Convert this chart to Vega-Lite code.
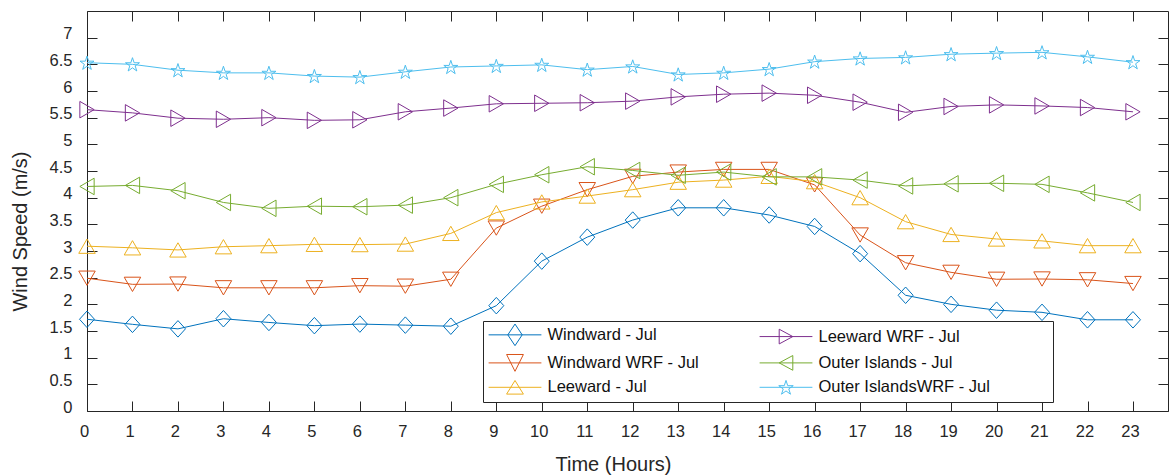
{
  "$schema": "https://vega.github.io/schema/vega-lite/v6.json",
  "width": 1081,
  "height": 400,
  "autosize": {"type": "none"},
  "padding": {"left": 87, "top": 11, "right": 7, "bottom": 64},
  "background": "white",
  "config": {
    "view": {"stroke": "#262626", "strokeWidth": 1},
    "axis": {"labelFont": "Liberation Sans", "labelFontSize": 16.5, "labelColor": "#262626", "titleFont": "Liberation Sans", "titleFontSize": 20, "titleFontWeight": "normal", "titleColor": "#262626", "tickColor": "#262626", "tickSize": -10, "tickWidth": 1, "domain": false, "grid": false}
  },
  "datasets": {
    "wind": [
      {"hour":0,"series":"Windward - Jul","speed":1.72},{"hour":1,"series":"Windward - Jul","speed":1.625},{"hour":2,"series":"Windward - Jul","speed":1.54},{"hour":3,"series":"Windward - Jul","speed":1.73},{"hour":4,"series":"Windward - Jul","speed":1.66},{"hour":5,"series":"Windward - Jul","speed":1.6},{"hour":6,"series":"Windward - Jul","speed":1.63},{"hour":7,"series":"Windward - Jul","speed":1.61},{"hour":8,"series":"Windward - Jul","speed":1.59},{"hour":9,"series":"Windward - Jul","speed":1.975},{"hour":10,"series":"Windward - Jul","speed":2.81},{"hour":11,"series":"Windward - Jul","speed":3.26},{"hour":12,"series":"Windward - Jul","speed":3.58},{"hour":13,"series":"Windward - Jul","speed":3.81},{"hour":14,"series":"Windward - Jul","speed":3.81},{"hour":15,"series":"Windward - Jul","speed":3.675},{"hour":16,"series":"Windward - Jul","speed":3.46},{"hour":17,"series":"Windward - Jul","speed":2.95},{"hour":18,"series":"Windward - Jul","speed":2.17},{"hour":19,"series":"Windward - Jul","speed":2.0},{"hour":20,"series":"Windward - Jul","speed":1.89},{"hour":21,"series":"Windward - Jul","speed":1.85},{"hour":22,"series":"Windward - Jul","speed":1.71},{"hour":23,"series":"Windward - Jul","speed":1.71},
      {"hour":0,"series":"Windward WRF - Jul","speed":2.49},{"hour":1,"series":"Windward WRF - Jul","speed":2.375},{"hour":2,"series":"Windward WRF - Jul","speed":2.38},{"hour":3,"series":"Windward WRF - Jul","speed":2.31},{"hour":4,"series":"Windward WRF - Jul","speed":2.31},{"hour":5,"series":"Windward WRF - Jul","speed":2.31},{"hour":6,"series":"Windward WRF - Jul","speed":2.35},{"hour":7,"series":"Windward WRF - Jul","speed":2.34},{"hour":8,"series":"Windward WRF - Jul","speed":2.47},{"hour":9,"series":"Windward WRF - Jul","speed":3.43},{"hour":10,"series":"Windward WRF - Jul","speed":3.84},{"hour":11,"series":"Windward WRF - Jul","speed":4.15},{"hour":12,"series":"Windward WRF - Jul","speed":4.4},{"hour":13,"series":"Windward WRF - Jul","speed":4.48},{"hour":14,"series":"Windward WRF - Jul","speed":4.53},{"hour":15,"series":"Windward WRF - Jul","speed":4.53},{"hour":16,"series":"Windward WRF - Jul","speed":4.24},{"hour":17,"series":"Windward WRF - Jul","speed":3.3},{"hour":18,"series":"Windward WRF - Jul","speed":2.78},{"hour":19,"series":"Windward WRF - Jul","speed":2.6},{"hour":20,"series":"Windward WRF - Jul","speed":2.47},{"hour":21,"series":"Windward WRF - Jul","speed":2.475},{"hour":22,"series":"Windward WRF - Jul","speed":2.46},{"hour":23,"series":"Windward WRF - Jul","speed":2.39},
      {"hour":0,"series":"Leeward - Jul","speed":3.09},{"hour":1,"series":"Leeward - Jul","speed":3.06},{"hour":2,"series":"Leeward - Jul","speed":3.02},{"hour":3,"series":"Leeward - Jul","speed":3.08},{"hour":4,"series":"Leeward - Jul","speed":3.1},{"hour":5,"series":"Leeward - Jul","speed":3.125},{"hour":6,"series":"Leeward - Jul","speed":3.12},{"hour":7,"series":"Leeward - Jul","speed":3.13},{"hour":8,"series":"Leeward - Jul","speed":3.33},{"hour":9,"series":"Leeward - Jul","speed":3.72},{"hour":10,"series":"Leeward - Jul","speed":3.92},{"hour":11,"series":"Leeward - Jul","speed":4.03},{"hour":12,"series":"Leeward - Jul","speed":4.15},{"hour":13,"series":"Leeward - Jul","speed":4.29},{"hour":14,"series":"Leeward - Jul","speed":4.33},{"hour":15,"series":"Leeward - Jul","speed":4.4},{"hour":16,"series":"Leeward - Jul","speed":4.3},{"hour":17,"series":"Leeward - Jul","speed":4.0},{"hour":18,"series":"Leeward - Jul","speed":3.55},{"hour":19,"series":"Leeward - Jul","speed":3.31},{"hour":20,"series":"Leeward - Jul","speed":3.225},{"hour":21,"series":"Leeward - Jul","speed":3.19},{"hour":22,"series":"Leeward - Jul","speed":3.1},{"hour":23,"series":"Leeward - Jul","speed":3.1},
      {"hour":0,"series":"Leeward WRF - Jul","speed":5.65},{"hour":1,"series":"Leeward WRF - Jul","speed":5.59},{"hour":2,"series":"Leeward WRF - Jul","speed":5.49},{"hour":3,"series":"Leeward WRF - Jul","speed":5.47},{"hour":4,"series":"Leeward WRF - Jul","speed":5.5},{"hour":5,"series":"Leeward WRF - Jul","speed":5.45},{"hour":6,"series":"Leeward WRF - Jul","speed":5.46},{"hour":7,"series":"Leeward WRF - Jul","speed":5.61},{"hour":8,"series":"Leeward WRF - Jul","speed":5.68},{"hour":9,"series":"Leeward WRF - Jul","speed":5.76},{"hour":10,"series":"Leeward WRF - Jul","speed":5.77},{"hour":11,"series":"Leeward WRF - Jul","speed":5.78},{"hour":12,"series":"Leeward WRF - Jul","speed":5.81},{"hour":13,"series":"Leeward WRF - Jul","speed":5.89},{"hour":14,"series":"Leeward WRF - Jul","speed":5.94},{"hour":15,"series":"Leeward WRF - Jul","speed":5.96},{"hour":16,"series":"Leeward WRF - Jul","speed":5.92},{"hour":17,"series":"Leeward WRF - Jul","speed":5.79},{"hour":18,"series":"Leeward WRF - Jul","speed":5.6},{"hour":19,"series":"Leeward WRF - Jul","speed":5.71},{"hour":20,"series":"Leeward WRF - Jul","speed":5.74},{"hour":21,"series":"Leeward WRF - Jul","speed":5.72},{"hour":22,"series":"Leeward WRF - Jul","speed":5.69},{"hour":23,"series":"Leeward WRF - Jul","speed":5.61},
      {"hour":0,"series":"Outer Islands - Jul","speed":4.21},{"hour":1,"series":"Outer Islands - Jul","speed":4.23},{"hour":2,"series":"Outer Islands - Jul","speed":4.13},{"hour":3,"series":"Outer Islands - Jul","speed":3.91},{"hour":4,"series":"Outer Islands - Jul","speed":3.8},{"hour":5,"series":"Outer Islands - Jul","speed":3.84},{"hour":6,"series":"Outer Islands - Jul","speed":3.83},{"hour":7,"series":"Outer Islands - Jul","speed":3.86},{"hour":8,"series":"Outer Islands - Jul","speed":4.0},{"hour":9,"series":"Outer Islands - Jul","speed":4.25},{"hour":10,"series":"Outer Islands - Jul","speed":4.43},{"hour":11,"series":"Outer Islands - Jul","speed":4.58},{"hour":12,"series":"Outer Islands - Jul","speed":4.51},{"hour":13,"series":"Outer Islands - Jul","speed":4.42},{"hour":14,"series":"Outer Islands - Jul","speed":4.48},{"hour":15,"series":"Outer Islands - Jul","speed":4.39},{"hour":16,"series":"Outer Islands - Jul","speed":4.39},{"hour":17,"series":"Outer Islands - Jul","speed":4.33},{"hour":18,"series":"Outer Islands - Jul","speed":4.22},{"hour":19,"series":"Outer Islands - Jul","speed":4.26},{"hour":20,"series":"Outer Islands - Jul","speed":4.27},{"hour":21,"series":"Outer Islands - Jul","speed":4.25},{"hour":22,"series":"Outer Islands - Jul","speed":4.09},{"hour":23,"series":"Outer Islands - Jul","speed":3.91},
      {"hour":0,"series":"Outer IslandsWRF - Jul","speed":6.53},{"hour":1,"series":"Outer IslandsWRF - Jul","speed":6.5},{"hour":2,"series":"Outer IslandsWRF - Jul","speed":6.39},{"hour":3,"series":"Outer IslandsWRF - Jul","speed":6.34},{"hour":4,"series":"Outer IslandsWRF - Jul","speed":6.34},{"hour":5,"series":"Outer IslandsWRF - Jul","speed":6.28},{"hour":6,"series":"Outer IslandsWRF - Jul","speed":6.26},{"hour":7,"series":"Outer IslandsWRF - Jul","speed":6.36},{"hour":8,"series":"Outer IslandsWRF - Jul","speed":6.45},{"hour":9,"series":"Outer IslandsWRF - Jul","speed":6.47},{"hour":10,"series":"Outer IslandsWRF - Jul","speed":6.49},{"hour":11,"series":"Outer IslandsWRF - Jul","speed":6.4},{"hour":12,"series":"Outer IslandsWRF - Jul","speed":6.46},{"hour":13,"series":"Outer IslandsWRF - Jul","speed":6.31},{"hour":14,"series":"Outer IslandsWRF - Jul","speed":6.34},{"hour":15,"series":"Outer IslandsWRF - Jul","speed":6.41},{"hour":16,"series":"Outer IslandsWRF - Jul","speed":6.55},{"hour":17,"series":"Outer IslandsWRF - Jul","speed":6.61},{"hour":18,"series":"Outer IslandsWRF - Jul","speed":6.63},{"hour":19,"series":"Outer IslandsWRF - Jul","speed":6.69},{"hour":20,"series":"Outer IslandsWRF - Jul","speed":6.71},{"hour":21,"series":"Outer IslandsWRF - Jul","speed":6.725},{"hour":22,"series":"Outer IslandsWRF - Jul","speed":6.64},{"hour":23,"series":"Outer IslandsWRF - Jul","speed":6.54}
    ]
  },
  "data": {"name": "wind"},
  "layer": [
    {
      "transform": [{"filter": "datum.series === 'Windward - Jul'"}],
      "mark": {"type": "line", "strokeWidth": 1, "color": "#0072BD", "point": {"filled": false, "color": "#0072BD", "opacity": 1, "strokeWidth": 1, "size": 225, "shape": "M-1,0L0,-1.1L1,0L0,1.1Z"}},
      "encoding": {
        "x": {"field": "hour", "type": "quantitative", "scale": {"domain": [0, 23.77], "nice": false, "zero": false},
              "axis": {"orient": "bottom", "values": [0,1,2,3,4,5,6,7,8,9,10,11,12,13,14,15,16,17,18,19,20,21,22,23], "title": "Time (Hours)", "labelPadding": 22, "labelOffset": -3, "labelFlush": false, "titleX": 526, "titleY": 59, "titleBaseline": "alphabetic", "titleAlign": "center", "titleAnchor": null}},
        "y": {"field": "speed", "type": "quantitative", "scale": {"domain": [0, 7.5], "nice": false},
              "axis": {"orient": "left", "values": [0,0.5,1,1.5,2,2.5,3,3.5,4,4.5,5,5.5,6,6.5,7], "format": "~g", "title": "Wind Speed (m/s)", "labelPadding": 25, "labelBaseline": "alphabetic", "labelOffset": 1, "labelFlush": false, "titleX": -61, "titleY": 220, "titleBaseline": "alphabetic", "titleAngle": -90, "titleAlign": "center", "titleAnchor": null}}
      }
    },
    {
      "transform": [{"filter": "datum.series === 'Windward WRF - Jul'"}],
      "mark": {"type": "line", "strokeWidth": 1, "color": "#D95319", "point": {"filled": false, "color": "#D95319", "opacity": 1, "strokeWidth": 1, "size": 272, "shape": "triangle-down"}},
      "encoding": {
        "x": {"field": "hour", "type": "quantitative", "scale": {"domain": [0, 23.77], "nice": false, "zero": false}, "axis": null},
        "y": {"field": "speed", "type": "quantitative", "scale": {"domain": [0, 7.5], "nice": false}, "axis": null}
      }
    },
    {
      "transform": [{"filter": "datum.series === 'Leeward - Jul'"}],
      "mark": {"type": "line", "strokeWidth": 1, "color": "#EDB120", "point": {"filled": false, "color": "#EDB120", "opacity": 1, "strokeWidth": 1, "size": 272, "shape": "triangle-up"}},
      "encoding": {
        "x": {"field": "hour", "type": "quantitative", "scale": {"domain": [0, 23.77], "nice": false, "zero": false}, "axis": null},
        "y": {"field": "speed", "type": "quantitative", "scale": {"domain": [0, 7.5], "nice": false}, "axis": null}
      }
    },
    {
      "transform": [{"filter": "datum.series === 'Leeward WRF - Jul'"}],
      "mark": {"type": "line", "strokeWidth": 1, "color": "#7E2F8E", "point": {"filled": false, "color": "#7E2F8E", "opacity": 1, "strokeWidth": 1, "size": 272, "shape": "triangle-right"}},
      "encoding": {
        "x": {"field": "hour", "type": "quantitative", "scale": {"domain": [0, 23.77], "nice": false, "zero": false}, "axis": null},
        "y": {"field": "speed", "type": "quantitative", "scale": {"domain": [0, 7.5], "nice": false}, "axis": null}
      }
    },
    {
      "transform": [{"filter": "datum.series === 'Outer Islands - Jul'"}],
      "mark": {"type": "line", "strokeWidth": 1, "color": "#77AC30", "point": {"filled": false, "color": "#77AC30", "opacity": 1, "strokeWidth": 1, "size": 272, "shape": "triangle-left"}},
      "encoding": {
        "x": {"field": "hour", "type": "quantitative", "scale": {"domain": [0, 23.77], "nice": false, "zero": false}, "axis": null},
        "y": {"field": "speed", "type": "quantitative", "scale": {"domain": [0, 7.5], "nice": false}, "axis": null}
      }
    },
    {
      "transform": [{"filter": "datum.series === 'Outer IslandsWRF - Jul'"}],
      "mark": {"type": "line", "strokeWidth": 1, "color": "#4DBEEE", "point": {"filled": false, "color": "#4DBEEE", "opacity": 1, "strokeWidth": 1, "size": 216, "shape": "M0,-0.905L0.225,-0.214L0.951,-0.214L0.363,0.213L0.588,0.904L0,0.477L-0.588,0.904L-0.363,0.213L-0.951,-0.214L-0.225,-0.214Z"}},
      "encoding": {
        "x": {"field": "hour", "type": "quantitative", "scale": {"domain": [0, 23.77], "nice": false, "zero": false}, "axis": null},
        "y": {"field": "speed", "type": "quantitative", "scale": {"domain": [0, 7.5], "nice": false}, "axis": null}
      }
    },
    {
      "transform": [{"filter": "datum.hour < 0"}],
      "mark": {"type": "point", "filled": false, "opacity": 1, "strokeWidth": 1},
      "encoding": {
        "x": {"field": "hour", "type": "quantitative", "scale": {"domain": [0, 23.77], "nice": false, "zero": false},
              "axis": {"orient": "top", "values": [0,1,2,3,4,5,6,7,8,9,10,11,12,13,14,15,16,17,18,19,20,21,22,23], "labels": false, "title": null}},
        "y": {"field": "speed", "type": "quantitative", "scale": {"domain": [0, 7.5], "nice": false},
              "axis": {"orient": "right", "values": [0,0.5,1,1.5,2,2.5,3,3.5,4,4.5,5,5.5,6,6.5,7], "labels": false, "title": null}},
        "color": {"field": "series", "type": "nominal",
                  "scale": {"domain": ["Windward - Jul", "Windward WRF - Jul", "Leeward - Jul", "Leeward WRF - Jul", "Outer Islands - Jul", "Outer IslandsWRF - Jul"], "range": ["#0072BD", "#D95319", "#EDB120", "#7E2F8E", "#77AC30", "#4DBEEE"]},
                  "legend": {"title": null, "orient": "none", "legendX": 396, "legendY": 310, "columns": 2, "columnPadding": 0, "rowPadding": 4.4, "padding": 5, "symbolSize": 256, "symbolStrokeWidth": 1, "symbolOffset": 18.5, "labelOffset": 24, "labelFont": "Liberation Sans", "labelFontSize": 16.5, "labelColor": "#111111", "labelLimit": 400, "strokeColor": "#262626", "fillColor": "#ffffff", "symbolFillColor": "transparent", "labelExpr": "datum.label + '\u00a0\u00a0\u00a0\u00a0\u00a0\u00a0\u00a0\u00a0\u00a0\u00a0\u2800'"}},
        "shape": {"field": "series", "type": "nominal",
                  "scale": {"domain": ["Windward - Jul", "Windward WRF - Jul", "Leeward - Jul", "Leeward WRF - Jul", "Outer Islands - Jul", "Outer IslandsWRF - Jul"],
                            "range": ["M-3.3,0L3.3,0M-0.9,0L0,-1.35L0.9,0L0,1.35Z", "M-3.3,0L3.3,0M-1.05,-1.05L1.05,-1.05L0,1.05Z", "M-3.3,0L3.3,0M-1.05,0.85L1.05,0.85L0,-0.85Z", "M-3.3,0L3.3,0M-0.85,-0.92L0.85,0L-0.85,0.92Z", "M-3.3,0L3.3,0M0.85,-0.92L-0.85,0L0.85,0.92Z", "M-3.3,0L3.3,0M0,-0.86L0.214,-0.203L0.903,-0.203L0.345,0.202L0.559,0.859L0,0.453L-0.559,0.859L-0.345,0.202L-0.903,-0.203L-0.214,-0.203Z"]},
                  "legend": {"title": null, "orient": "none", "legendX": 396, "legendY": 310, "columns": 2, "columnPadding": 0, "rowPadding": 4.4, "padding": 5, "symbolSize": 256, "symbolStrokeWidth": 1, "symbolOffset": 18.5, "labelOffset": 24, "labelFont": "Liberation Sans", "labelFontSize": 16.5, "labelColor": "#111111", "labelLimit": 400, "strokeColor": "#262626", "fillColor": "#ffffff", "symbolFillColor": "transparent", "labelExpr": "datum.label + '\u00a0\u00a0\u00a0\u00a0\u00a0\u00a0\u00a0\u00a0\u00a0\u00a0\u2800'"}}
      }
    }
  ],
  "resolve": {"axis": {"x": "independent", "y": "independent"}}
}
